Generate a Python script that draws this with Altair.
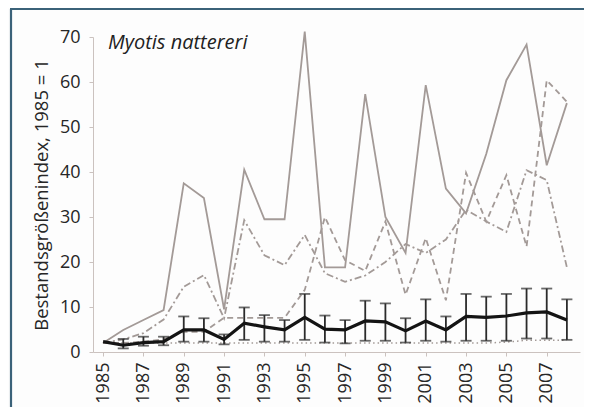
import altair as alt
import pandas as pd

years = list(range(1985, 2009))
solid = [2, 4.9, 7.1, 9.3, 37.5, 34.2, 9.5, 40.5, 29.5, 29.5, 71.2, 18.8, 18.8, 57.3,
         30, 22, 59.3, 36.3, 30.8, 44, 60.4, 68.3, 41.5, 55.3]
dashdot = [2, 2.8, 4.2, 7.2, 14.5, 17.1, 7.5, 29.3, 21.5, 19.3, 26, 17.5, 15.6, 17,
           20, 24, 22, 25, 31.6, 29, 26.7, 40.4, 38.2, 18.8]
dashed = [2, 2, 2.3, 2.8, 4.5, 4.5, 7.6, 7.6, 7.6, 7.6, 13.8, 30, 20.4, 18,
          29, 12.7, 25.3, 11.5, 39.8, 29, 39.3, 23.4, 60.4, 55.6]
dotted = [2, 2, 2, 2, 2, 2, 2, 2, 2, 2, 2, 2, 2, 2,
          2, 2, 2, 2, 2, 2, 2.2, 2.6, 2.6, 2.6]
index = [2.3, 1.5, 2.1, 2.3, 4.9, 4.9, 2.8, 6.4, 5.6, 4.9, 7.7, 5.1, 4.9, 6.9,
         6.7, 4.7, 6.9, 4.9, 7.9, 7.7, 8.0, 8.7, 8.9, 7.1]
err_years = years[1:]
upper = [2.9, 3.4, 3.4, 7.9, 7.5, 3.9, 9.9, 8.2, 7.1, 12.9, 8.1, 7.1, 11.4,
         10.8, 7.5, 11.7, 7.9, 12.9, 12.3, 12.9, 14.1, 14.1, 11.7]
lower = [0.8, 1.4, 1.5, 2.3, 2.3, 1.7, 2.7, 2.3, 2.3, 2.7, 2.1, 1.9, 2.5,
         2.5, 2.1, 2.5, 2.3, 2.5, 2.5, 2.5, 3.0, 3.0, 2.7]
title_text = "Myotis nattereri"
y_title = "Bestandsgrößenindex, 1985 = 1"
y_ticks = [0, 10, 20, 30, 40, 50, 60, 70]

df = pd.DataFrame({"year": years, "solid": solid, "dashdot": dashdot,
                   "dashed": dashed, "dotted": dotted, "index": index})
edf = pd.DataFrame({"year": err_years, "upper": upper, "lower": lower})

FONT = "Open Sans"
GRAY = "#a39a97"
AX = "#cbc2bf"
TXT = "#262626"

xscale = alt.Scale(domain=[1984.5, 2008.65], nice=False, zero=False)
yscale = alt.Scale(domain=[0, 70], nice=False)

xaxis = alt.Axis(values=years, format="d",
                 labelExpr="datum.value % 2 == 1 ? datum.label : ''",
                 labelAngle=270, labelFontSize=18, labelColor=TXT,
                 labelFont=FONT, labelFontWeight=500, tickSize=4, tickColor=AX,
                 domainColor=AX, grid=False, title=None, labelPadding=6)
yaxis = alt.Axis(values=y_ticks, labelFontSize=18, labelColor=TXT,
                 labelFont=FONT, labelFontWeight=500, tickSize=4, tickColor=AX,
                 domainColor=AX, grid=False, labelPadding=9, title=y_title,
                 titleFont=FONT, titleFontSize=18.5, titleFontWeight="normal",
                 titleColor=TXT, titlePadding=8)

base = alt.Chart(df).encode(x=alt.X("year:Q", scale=xscale, axis=xaxis))

l_solid = base.mark_line(color=GRAY, strokeWidth=1.8).encode(
    y=alt.Y("solid:Q", scale=yscale, axis=yaxis))
l_dd = base.mark_line(color=GRAY, strokeWidth=1.8, strokeDash=[7, 3, 2, 3]).encode(
    y=alt.Y("dashdot:Q", scale=yscale))
l_da = base.mark_line(color=GRAY, strokeWidth=1.8, strokeDash=[6, 4]).encode(
    y=alt.Y("dashed:Q", scale=yscale))
l_do = base.mark_line(color=GRAY, strokeWidth=1.5, strokeDash=[1.5, 3]).encode(
    y=alt.Y("dotted:Q", scale=yscale))

ebase = alt.Chart(edf).encode(x=alt.X("year:Q", scale=xscale))
e_rule = ebase.mark_rule(color="#2b2b2b", strokeWidth=1.8).encode(
    y=alt.Y("lower:Q", scale=yscale), y2="upper:Q")
e_up = ebase.mark_tick(orient="horizontal", color="#2b2b2b", size=11, thickness=1.8).encode(
    y=alt.Y("upper:Q", scale=yscale))
e_lo = ebase.mark_tick(orient="horizontal", color="#2b2b2b", size=11, thickness=1.8).encode(
    y=alt.Y("lower:Q", scale=yscale))

l_idx = base.mark_line(color="#141414", strokeWidth=3.2).encode(
    y=alt.Y("index:Q", scale=yscale))

tdf = pd.DataFrame({"t": [title_text]})
ttl = alt.Chart(tdf).mark_text(align="left", baseline="alphabetic", font=FONT,
                               fontStyle="italic", fontSize=20, color="#222222").encode(
    x=alt.value(15), y=alt.value(12), text="t:N")

fdf = pd.DataFrame({"a": [0]})
frame_v = alt.Chart(fdf).mark_rule(color="#3b6279", strokeWidth=2.2).encode(
    x=alt.value(-82), y=alt.value(-28), y2=alt.value(400))
frame_h = alt.Chart(fdf).mark_rule(color="#3b6279", strokeWidth=2.2).encode(
    x=alt.value(-83), x2=alt.value(520), y=alt.value(-28))

chart = alt.layer(l_solid, l_dd, l_da, l_do, e_rule, e_up, e_lo, l_idx, ttl,
                  frame_v, frame_h).properties(
    width=487, height=315,
    autosize=alt.AutoSizeParams(type="none"),
    padding={"left": 85, "top": 29, "right": 4, "bottom": 55},
    background="#fdfdfd",
).configure_view(stroke=None)

chart.save("out.html", embed_options={"renderer": "svg", "actions": False})
